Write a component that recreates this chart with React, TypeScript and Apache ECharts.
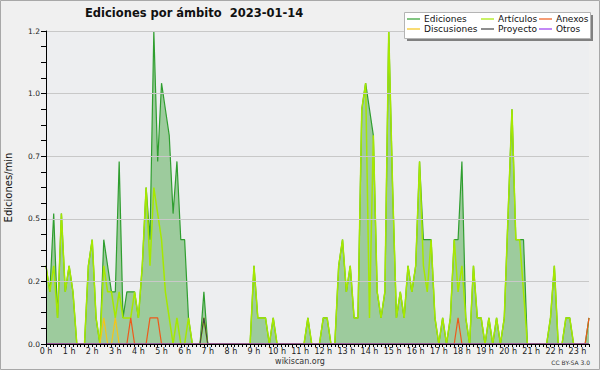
import React, { useEffect, useRef } from "react";
import * as echarts from "echarts";

// Edits counted in 10-minute bins (bin 0 = 00:00 ... bin 141 = 23:30); plotted as edits/min.
const BIN_MINUTES = 10;
const HOUR_TICK_BINS = 6;

const ediciones = [
  3, 2, 5, 1, 5, 2, 3, 2, 0, 0, 0, 3,
  4, 1, 0, 4, 3, 2, 2, 7, 1, 2, 2, 2,
  1, 3, 6, 4, 12, 7, 10, 9, 8, 5, 7, 4,
  4, 1, 0, 0, 0, 2, 0, 0, 0, 0, 0, 0,
  0, 0, 0, 0, 0, 0, 3, 1, 1, 1, 0, 1,
  0, 0, 0, 0, 0, 0, 0, 0, 1, 0, 0, 0,
  1, 1, 0, 0, 3, 4, 2, 3, 1, 1, 9, 10,
  9, 8, 2, 1, 2, 12, 6, 1, 2, 1, 3, 2,
  3, 7, 4, 4, 4, 1, 0, 1, 0, 1, 4, 4,
  7, 1, 0, 3, 1, 1, 0, 1, 0, 1, 0, 1,
  5, 9, 4, 4, 4, 0, 0, 0, 0, 0, 0, 1,
  3, 0, 0, 1, 1, 0, 0, 0, 0, 1,
];

const articulos = [
  3, 2, 3, 1, 5, 2, 3, 2, 0, 0, 0, 3,
  4, 1, 0, 3, 2, 2, 1, 2, 1, 1, 1, 2,
  1, 3, 6, 3, 6, 5, 4, 2, 1, 0, 1, 0,
  0, 1, 0, 0, 0, 1, 0, 0, 0, 0, 0, 0,
  0, 0, 0, 0, 0, 0, 3, 1, 1, 1, 0, 1,
  0, 0, 0, 0, 0, 0, 0, 0, 1, 0, 0, 0,
  1, 1, 0, 0, 3, 4, 2, 3, 1, 1, 9, 10,
  1, 8, 2, 1, 2, 12, 6, 1, 2, 1, 3, 2,
  3, 7, 3, 2, 4, 1, 0, 1, 0, 1, 4, 2,
  3, 1, 0, 3, 1, 1, 0, 1, 0, 1, 0, 1,
  5, 9, 4, 4, 2, 0, 0, 0, 0, 0, 0, 1,
  3, 0, 0, 1, 1, 0, 0, 0, 0, 0,
];

const anexos = [
  0, 0, 0, 0, 0, 0, 0, 0, 0, 0, 0, 0,
  0, 0, 0, 0, 0, 0, 0, 0, 0, 0, 1, 0,
  0, 0, 0, 1, 1, 1, 0, 0, 0, 0, 0, 0,
  0, 0, 0, 0, 0, 0, 0, 0, 0, 0, 0, 0,
  0, 0, 0, 0, 0, 0, 0, 0, 0, 0, 0, 0,
  0, 0, 0, 0, 0, 0, 0, 0, 0, 0, 0, 0,
  0, 0, 0, 0, 0, 0, 0, 0, 0, 0, 0, 0,
  0, 0, 0, 0, 0, 0, 0, 0, 0, 0, 0, 0,
  0, 0, 0, 0, 0, 0, 0, 0, 0, 0, 0, 1,
  0, 0, 0, 0, 0, 0, 0, 0, 0, 0, 0, 0,
  0, 0, 0, 0, 0, 0, 0, 0, 0, 0, 0, 0,
  0, 0, 0, 0, 0, 0, 0, 0, 0, 1,
];

const discusiones = [
  0, 0, 0, 0, 0, 0, 0, 0, 0, 0, 0, 0,
  0, 0, 0, 1, 0, 0, 1, 0, 0, 0, 0, 0,
  0, 0, 0, 0, 0, 0, 0, 0, 0, 0, 0, 0,
  0, 0, 0, 0, 0, 0, 0, 0, 0, 0, 0, 0,
  0, 0, 0, 0, 0, 0, 0, 0, 0, 0, 0, 0,
  0, 0, 0, 0, 0, 0, 0, 0, 0, 0, 0, 0,
  0, 0, 0, 0, 0, 0, 0, 0, 0, 0, 0, 0,
  0, 0, 0, 0, 0, 0, 0, 0, 0, 0, 0, 0,
  0, 0, 0, 0, 0, 0, 0, 0, 0, 0, 0, 0,
  0, 0, 0, 0, 0, 0, 0, 0, 0, 0, 0, 0,
  0, 0, 0, 0, 0, 0, 0, 0, 0, 0, 0, 0,
  0, 0, 0, 0, 0, 0, 0, 0, 0, 0,
];

const proyecto = [
  0, 0, 0, 0, 0, 0, 0, 0, 0, 0, 0, 0,
  0, 0, 0, 0, 0, 0, 0, 0, 0, 0, 0, 0,
  0, 0, 0, 0, 0, 0, 0, 0, 0, 0, 0, 0,
  0, 0, 0, 0, 0, 1, 0, 0, 0, 0, 0, 0,
  0, 0, 0, 0, 0, 0, 0, 0, 0, 0, 0, 0,
  0, 0, 0, 0, 0, 0, 0, 0, 0, 0, 0, 0,
  0, 0, 0, 0, 0, 0, 0, 0, 0, 0, 0, 0,
  0, 0, 0, 0, 0, 0, 0, 0, 0, 0, 0, 0,
  0, 0, 0, 0, 0, 0, 0, 0, 0, 0, 0, 0,
  0, 0, 0, 0, 0, 0, 0, 0, 0, 0, 0, 0,
  0, 0, 0, 0, 0, 0, 0, 0, 0, 0, 0, 0,
  0, 0, 0, 0, 0, 0, 0, 0, 0, 0,
];

const otros = [
  0, 0, 0, 0, 0, 0, 0, 0, 0, 0, 0, 0,
  0, 0, 0, 0, 0, 0, 0, 0, 0, 0, 0, 0,
  0, 0, 0, 0, 0, 0, 0, 0, 0, 0, 0, 0,
  0, 0, 0, 0, 0, 0, 0, 0, 0, 0, 0, 0,
  0, 0, 0, 0, 0, 0, 0, 0, 0, 0, 0, 0,
  0, 0, 0, 0, 0, 0, 0, 0, 0, 0, 0, 0,
  0, 0, 0, 0, 0, 0, 0, 0, 0, 0, 0, 0,
  0, 0, 0, 0, 0, 0, 0, 0, 0, 0, 0, 0,
  0, 0, 0, 0, 0, 0, 0, 0, 0, 0, 0, 0,
  0, 0, 0, 0, 0, 0, 0, 0, 0, 0, 0, 0,
  0, 0, 0, 0, 0, 0, 0, 0, 0, 0, 0, 0,
  0, 0, 0, 0, 0, 0, 0, 0, 0, 0,
];

const SERIES_NAMES = ["Ediciones", "Artículos", "Anexos", "Discusiones", "Proyecto", "Otros"];
const TITLE = "Ediciones por ámbito  2023-01-14";
const Y_NAME = "Ediciones/min";

const toPoints = (counts: number[]) => counts.map((c, i) => [i, c / BIN_MINUTES]);

export default function App() {
  const ref = useRef<HTMLDivElement>(null);

  useEffect(() => {
    if (!ref.current) return;
    const chart = echarts.init(ref.current, null, { renderer: "svg" });
    const font = "DejaVu Sans";

    const lineSeries = (name: string, data: number[], color: string, width: number, z: number, extra: any = {}) => ({
      name,
      type: "line",
      data: toPoints(data),
      showSymbol: false,
      symbol: "none",
      z,
      lineStyle: { color, width },
      itemStyle: { color },
      emphasis: { disabled: true },
      ...extra,
    });

    const legendBase = {
      orient: "vertical",
      top: 14,
      padding: 0,
      itemGap: 0,
      itemWidth: 13,
      itemHeight: 1.2,
      icon: "rect",
      selectedMode: false,
      z: 30,
      textStyle: { fontFamily: font, fontSize: 9, color: "#111", lineHeight: 10, padding: [0, 0, 0, -1] },
    };

    const option: any = {
      animation: false,
      backgroundColor: "#f0f0f0",
      textStyle: { fontFamily: font },
      title: {
        text: TITLE,
        left: 85,
        top: 7,
        padding: 0,
        textStyle: { fontFamily: font, fontSize: 11.5, fontWeight: "bold", color: "#111" },
      },
      grid: {
        left: 46,
        right: 11,
        top: 31,
        bottom: 26,
        containLabel: false,
        outerBoundsMode: "none",
        show: true,
        backgroundColor: "#edeef0",
        borderWidth: 0,
      },
      xAxis: {
        type: "value",
        min: 0,
        max: ediciones.length - 1,
        interval: HOUR_TICK_BINS,
        z: 5,
        axisLine: { show: true, lineStyle: { color: "#000", width: 1 } },
        axisTick: { show: true, length: 3, lineStyle: { color: "#000" } },
        minorTick: { show: true, splitNumber: HOUR_TICK_BINS, length: 3, lineStyle: { color: "#000" } },
        splitLine: { show: false },
        axisLabel: {
          fontFamily: font,
          fontSize: 8,
          color: "#222",
          margin: 3,
          hideOverlap: false,
          formatter: (v: number) => (v % HOUR_TICK_BINS === 0 ? `${v / HOUR_TICK_BINS} h` : ""),
        },
      },
      yAxis: {
        type: "value",
        min: 0,
        max: 1.2,
        interval: 0.24,
        z: 5,
        name: Y_NAME,
        nameLocation: "middle",
        nameGap: 33,
        nameTextStyle: { fontFamily: font, fontSize: 10, color: "#111" },
        axisLine: { show: true, lineStyle: { color: "#000", width: 1 } },
        axisTick: { show: true, length: 5, lineStyle: { color: "#000" } },
        minorTick: { show: true, splitNumber: 4, length: 5, lineStyle: { color: "#000" } },
        splitLine: { show: true, lineStyle: { color: "#c8c8c8", width: 1 } },
        axisLabel: {
          fontFamily: font,
          fontSize: 7.5,
          color: "#222",
          margin: 6,
          formatter: (v: number) => v.toFixed(1),
        },
      },
      legend: [
        { ...legendBase, left: 407, data: [SERIES_NAMES[0], SERIES_NAMES[3]] },
        { ...legendBase, left: 481, data: [SERIES_NAMES[1], SERIES_NAMES[4]] },
        { ...legendBase, left: 539, data: [SERIES_NAMES[2], SERIES_NAMES[5]] },
      ],
      series: [
        lineSeries(SERIES_NAMES[0], ediciones, "#2f9e2f", 1.2, 2, {
          areaStyle: { color: "#9dcb9d", opacity: 1 },
        }),
        lineSeries(SERIES_NAMES[1], articulos, "#a6e800", 1.5, 3),
        lineSeries(SERIES_NAMES[2], anexos, "#ee5a1a", 1.2, 4),
        lineSeries(SERIES_NAMES[3], discusiones, "#f5c518", 1.2, 4),
        lineSeries(SERIES_NAMES[4], proyecto, "#444444", 1.2, 4),
        lineSeries(SERIES_NAMES[5], otros, "#9b3bf0", 1.2, 4),
      ],
      graphic: [
        {
          type: "rect",
          silent: true,
          z: 20,
          shape: { x: 407, y: 15, width: 186, height: 26 },
          style: { fill: "#808080" },
        },
        {
          type: "rect",
          silent: true,
          z: 21,
          shape: { x: 404.5, y: 12.5, width: 186, height: 26 },
          style: { fill: "#ffffff", stroke: "#b4b4b4", lineWidth: 1 },
        },
        {
          type: "text",
          silent: true,
          z: 21,
          x: 300,
          y: 361,
          style: {
            text: "wikiscan.org",
            fontFamily: font,
            fontSize: 8,
            fill: "#333",
            align: "center",
            verticalAlign: "middle",
          },
        },
        {
          type: "text",
          silent: true,
          z: 21,
          x: 590,
          y: 362,
          style: {
            text: "CC BY-SA 3.0",
            fontFamily: font,
            fontSize: 6,
            fill: "#333",
            align: "right",
            verticalAlign: "middle",
          },
        },
        {
          type: "rect",
          silent: true,
          z: 50,
          shape: { x: 0.5, y: 0.5, width: 599, height: 369 },
          style: { fill: "none", stroke: "#a8a8a8", lineWidth: 1 },
        },
      ],
    };

    chart.setOption(option);
    return () => chart.dispose();
  }, []);

  return (
    <div
      ref={ref}
      style={{ position: "fixed", left: 0, top: 0, width: 600, height: 370 }}
    />
  );
}
